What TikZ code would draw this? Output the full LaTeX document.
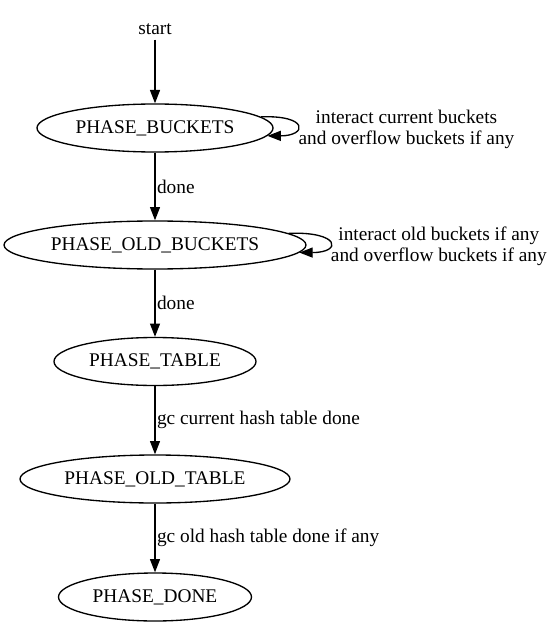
\documentclass[tikz,border=0pt]{standalone}
\usepackage{fontspec}
\setmainfont{Liberation Serif}
\usetikzlibrary{shapes.geometric,arrows.meta}
\begin{document}
\begin{tikzpicture}[x=0.75pt,y=-0.75pt,line width=1pt,
    >={Triangle[length=10pt,width=7.5pt]},
    every node/.style={font=\fontsize{14.5pt}{16pt}\selectfont},
    state node/.style={ellipse,draw,inner sep=0pt,minimum height=36pt},
    edge label/.style={anchor=west,inner sep=1pt},
    loop label/.style={anchor=west,inner sep=0.5pt,align=center,yshift=-3pt}]
        \useasboundingbox (0,0) rectangle (551,627);
        \node at (155, 29) (start) {start};
        \node[state node, minimum width=177pt] at (155, 128) (pb) {PHASE\_BUCKETS};
        \node[state node, minimum width=226.5pt] at (155, 245) (pob) {PHASE\_OLD\_BUCKETS};
        \node[state node, minimum width=151.5pt] at (155, 361.5) (pt) {PHASE\_TABLE};
        \node[state node, minimum width=202.5pt] at (155, 479) (pot) {PHASE\_OLD\_TABLE};
        \node[state node, minimum width=144.75pt] at (155, 597) (pd) {PHASE\_DONE};

        \path[->]
            (start.south) edge (pb)
            (pb) edge node[edge label] {done} (pob)
            (pob) edge node[edge label] {done} (pt)
            (pt) edge node[edge label] {gc current hash table done} (pot)
            (pot) edge node[edge label] {gc old hash table done if any} (pd)
            ;

        % self loops
        \draw[->] (pb.6) .. controls +(48,-2) and +(40,0) .. node[loop label] {interact current buckets\\and overflow buckets if any} (pb.-4);
        \draw[->] (pob.5) .. controls +(52,-2) and +(43,0) .. node[loop label] {interact old buckets if any\\and overflow buckets if any} (pob.-3);
    \end{tikzpicture}
\end{document}
